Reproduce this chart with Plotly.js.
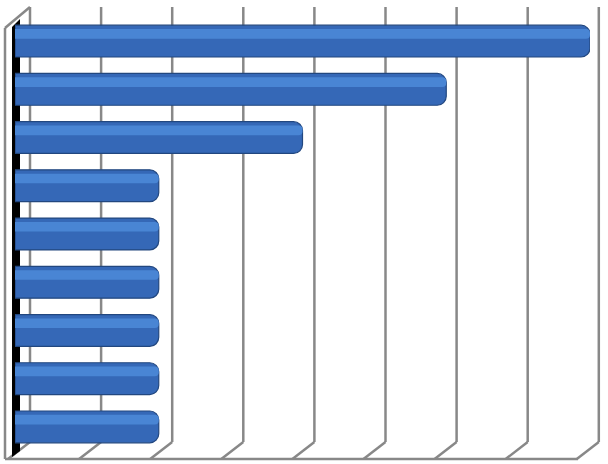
<!DOCTYPE html>
<html>
<head>
<meta charset="utf-8">
<script src="https://cdn.plot.ly/plotly-3.0.1.min.js"></script>
<style>
  html, body { margin: 0; padding: 0; background: #fff; }
  #chart { width: 608px; height: 464px; }
</style>
</head>
<body>
<div id="chart"></div>
<script>
// categories (no labels are shown on the chart)
const categories = ['1', '2', '3', '4', '5', '6', '7', '8', '9'];
const values = [8, 6, 4, 2, 2, 2, 2, 2, 2];

const W = 608, H = 464;
const px = v => v / W;
const py = v => 1 - v / H;

// back wall / floor frame drawn as shapes below the bars
const grey = '#888888';
const shapes = [];
for (let k = 0; k <= 8; k++) {
  const xb = 30 + k * 71.1;
  // back gridline
  shapes.push({type: 'line', xref: 'paper', yref: 'paper', layer: 'below',
    x0: px(xb), x1: px(xb), y0: py(7), y1: py(442),
    line: {color: grey, width: 2.5}});
  // floor diagonal
  shapes.push({type: 'line', xref: 'paper', yref: 'paper', layer: 'below',
    x0: px(xb), x1: px(xb - 22), y0: py(442), y1: py(459),
    line: {color: grey, width: 2.5}});
}
// front edge of the floor
shapes.push({type: 'line', xref: 'paper', yref: 'paper', layer: 'below',
  x0: px(5), x1: px(578), y0: py(459), y1: py(459),
  line: {color: grey, width: 2.5}});
// left wall
shapes.push({type: 'line', xref: 'paper', yref: 'paper', layer: 'below',
  x0: px(5), x1: px(5), y0: py(28), y1: py(459),
  line: {color: grey, width: 2.5}});
shapes.push({type: 'line', xref: 'paper', yref: 'paper', layer: 'below',
  x0: px(5), x1: px(30), y0: py(28), y1: py(7),
  line: {color: grey, width: 2.5}});
// black side of the wall
shapes.push({type: 'path', xref: 'paper', yref: 'paper', layer: 'below',
  path: 'M ' + px(12) + ' ' + py(27) + ' L ' + px(20) + ' ' + py(19) +
        ' L ' + px(20) + ' ' + py(451) + ' L ' + px(12) + ' ' + py(457) + ' Z',
  fillcolor: '#000000', line: {width: 0}});

const base = {
  type: 'bar', orientation: 'h',
  x: values, y: categories,
  width: 0.66,
  marker: {color: '#3568b7', line: {color: '#22477f', width: 1.2}, cornerradius: 9},
  hoverinfo: 'x'
};
const shine = {
  type: 'bar', orientation: 'h',
  x: values, y: categories,
  width: 0.2, offset: -0.25,
  marker: {color: '#4985d4', line: {width: 0}, cornerradius: 5},
  hoverinfo: 'skip'
};

const layout = {
  width: W, height: H,
  margin: {l: 0, r: 0, t: 0, b: 0},
  paper_bgcolor: '#ffffff', plot_bgcolor: 'rgba(0,0,0,0)',
  showlegend: false,
  barmode: 'overlay',
  xaxis: {domain: [px(15), px(590)], range: [0, 8], showgrid: false,
    zeroline: false, showticklabels: false, showline: false},
  yaxis: {domain: [py(451), py(17)], type: 'category', autorange: 'reversed',
    showgrid: false, zeroline: false, showticklabels: false, showline: false},
  shapes: shapes
};

Plotly.newPlot('chart', [base, shine], layout, {displayModeBar: false, staticPlot: true});
</script>
</body>
</html>
